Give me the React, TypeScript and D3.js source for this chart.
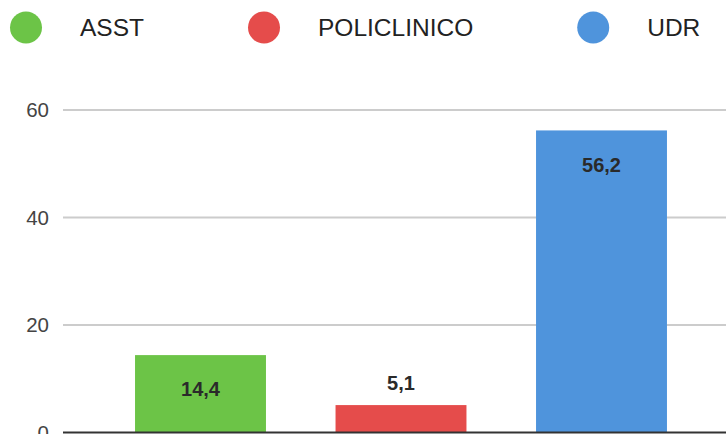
import * as React from 'react';
import * as d3 from 'd3';

const categories = ['ASST', 'POLICLINICO', 'UDR'];
const values = [14.4, 5.1, 56.2];
const colors = ['#6cc447', '#e54c4b', '#4f94dc'];
const yTicks = [0, 20, 40, 60];

const width = 726;
const height = 434;
const font = '"Liberation Sans", Arial, Helvetica, sans-serif';

const App = () => {
  const svg_root = React.useRef<SVGSVGElement>(null);

  React.useEffect(() => {
    const svg = d3.select(svg_root.current);
    svg.selectAll('*').remove();

    const x = d3.scaleBand<string>()
      .domain(categories)
      .range([100.25, 701.75])
      .paddingInner(0.347)
      .paddingOuter(0.1735);

    const y = d3.scaleLinear()
      .domain([0, 60])
      .range([432.5, 110]);

    // grid
    svg.append('g')
      .selectAll('line')
      .data(yTicks.filter(d => d > 0))
      .enter()
      .append('line')
      .attr('x1', 63)
      .attr('x2', width)
      .attr('y1', d => y(d))
      .attr('y2', d => y(d))
      .attr('stroke', '#cccccc')
      .attr('stroke-width', 2);

    svg.append('g')
      .selectAll('text')
      .data(yTicks)
      .enter()
      .append('text')
      .attr('x', 49)
      .attr('y', d => y(d))
      .attr('dy', '0.36em')
      .attr('text-anchor', 'end')
      .attr('font-family', font)
      .attr('font-size', 20.5)
      .attr('fill', '#444')
      .text(d => d);

    // bars
    svg.append('g')
      .selectAll('rect')
      .data(values)
      .enter()
      .append('rect')
      .attr('x', (_, i) => x(categories[i])!)
      .attr('y', d => y(d))
      .attr('width', x.bandwidth())
      .attr('height', d => y(0) - y(d))
      .attr('fill', (_, i) => colors[i]);

    // baseline
    svg.append('line')
      .attr('x1', 63)
      .attr('x2', width)
      .attr('y1', y(0))
      .attr('y2', y(0))
      .attr('stroke', '#333')
      .attr('stroke-width', 2);

    // value labels: inside when the bar is tall enough, above otherwise
    svg.append('g')
      .selectAll('text')
      .data(values)
      .enter()
      .append('text')
      .attr('x', (_, i) => x(categories[i])! + x.bandwidth() / 2)
      .attr('y', d => (y(0) - y(d) > 50 ? y(d) + 34 : y(d) - 22))
      .attr('dy', '0.36em')
      .attr('text-anchor', 'middle')
      .attr('font-family', font)
      .attr('font-size', 20)
      .attr('font-weight', 'bold')
      .attr('fill', '#2a2a2a')
      .text(d => d.toFixed(1).replace('.', ','));

    // legend, items laid out one after another with a fixed gap
    const legend = svg.append('g');
    let cx = 10;
    categories.forEach((c, i) => {
      const item = legend.append('g');
      item.append('circle')
        .attr('cx', cx + 16)
        .attr('cy', 27.5)
        .attr('r', 16)
        .attr('fill', colors[i]);
      const t = item.append('text')
        .attr('x', cx + 70)
        .attr('y', 27.5)
        .attr('dy', '0.36em')
        .attr('font-family', font)
        .attr('font-size', 24.5)
        .attr('fill', '#222')
        .text(c);
      const tw = (t.node() as SVGTextElement).getComputedTextLength();
      cx = cx + 70 + tw + 104;
    });
  }, []);

  return (
    <svg
      ref={svg_root}
      width={width}
      height={height}
      style={{ position: 'absolute', left: 0, top: 0, background: '#fff' }}
    />
  );
};

export default App;
